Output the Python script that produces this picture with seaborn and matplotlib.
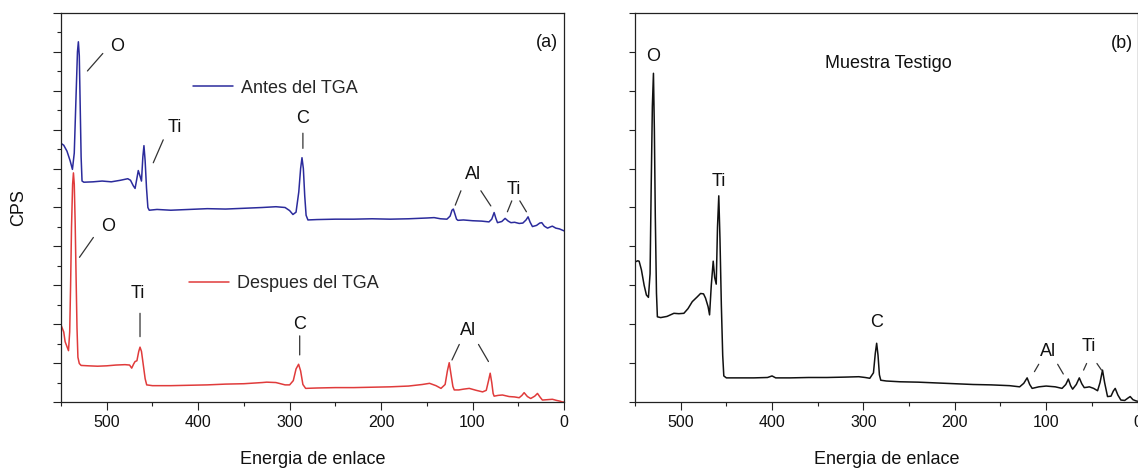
import numpy as np
import pandas as pd
import matplotlib
matplotlib.use("Agg")
import matplotlib.pyplot as plt
from matplotlib.ticker import MultipleLocator
import seaborn as sns

# ---- XPS survey spectra (binding energy in eV, intensity in arbitrary CPS units) ----
antes_e = [550, 547, 543.5, 540, 537.5, 535.5, 533.5, 532, 531, 530, 529, 528, 527,
           525, 515, 505, 495, 485, 477, 474, 471, 469, 467, 465.5, 463.5, 462,
           460.5, 459.3, 458, 456.5, 455, 453.5, 445, 430, 410, 390, 370, 350, 330,
           315, 305, 300, 296.4, 293, 290, 288, 286.5, 285, 283.5, 282, 280, 270,
           250, 230, 210, 190, 170, 150, 142, 135, 128, 124.5, 122.5, 121, 119.5,
           117.5, 116, 110, 100, 90, 82, 79, 76.4, 74.5, 72.7, 68, 64.4, 61, 58,
           54, 49, 45, 41.5, 39.3, 37, 34.5, 30, 26.5, 24.3, 21.5, 18, 14, 12.7,
           9, 5, 2, 0]
antes_cps = [6.65, 6.60, 6.45, 6.20, 5.98, 6.40, 7.90, 9.00, 9.26, 8.90, 7.60, 6.30, 5.68,
             5.65, 5.66, 5.68, 5.66, 5.70, 5.74, 5.70, 5.56, 5.49, 5.75, 5.95, 5.80, 5.68,
             6.30, 6.59, 6.20, 5.50, 5.00, 4.93, 4.95, 4.93, 4.95, 4.97, 4.96, 4.98, 5.00,
             5.02, 5.00, 4.92, 4.82, 4.88, 5.40, 6.00, 6.28, 6.00, 5.30, 4.80, 4.68, 4.69,
             4.70, 4.70, 4.71, 4.70, 4.71, 4.73, 4.74, 4.71, 4.70, 4.78, 4.93, 4.96, 4.85,
             4.70, 4.67, 4.68, 4.66, 4.65, 4.63, 4.70, 4.87, 4.72, 4.61, 4.64, 4.72, 4.65, 4.61,
             4.62, 4.59, 4.60, 4.68, 4.76, 4.62, 4.51, 4.54, 4.60, 4.61, 4.52, 4.47, 4.51, 4.52,
             4.47, 4.45, 4.42, 4.40]

despues_e = [550, 547, 545.5, 541.8, 540.5, 539.5, 538.5, 537.3, 536.4, 535.5, 534.5,
             533.5, 532.5, 531.5, 530, 528, 520, 510, 500, 490, 480, 475, 472.7, 470.5,
             469, 467, 465, 463.6, 462, 460, 458, 456.3, 450, 430, 410, 390, 370, 350,
             330, 325, 315, 305, 300, 296, 293, 290.2, 288, 285.5, 282.5, 270, 250, 230,
             210, 190, 170, 155, 147, 140, 134.5, 130, 127.5, 125.5, 123.5, 121.5, 120,
             115, 110, 103.6, 96, 89, 85, 82.5, 80.7, 79, 77.5, 76.4, 72, 67.3, 60, 54,
             49, 46, 43.6, 40, 36.4, 32, 29, 26, 23.6, 18, 12.7, 8, 4, 1.8, 0]
despues_cps = [1.98, 1.80, 1.55, 1.32, 1.80, 3.00, 4.50, 5.60, 5.89, 5.60, 4.60,
               3.20, 1.90, 1.15, 0.99, 0.94, 0.93, 0.92, 0.93, 0.95, 0.96, 0.95, 0.87, 0.98,
               1.04, 1.06, 1.30, 1.41, 1.30, 0.95, 0.60, 0.44, 0.42, 0.42, 0.43, 0.44, 0.46, 0.47,
               0.50, 0.51, 0.50, 0.44, 0.44, 0.55, 0.85, 0.97, 0.80, 0.45, 0.35, 0.36, 0.37, 0.37,
               0.38, 0.39, 0.41, 0.45, 0.48, 0.42, 0.35, 0.45, 0.80, 1.01, 0.70, 0.40, 0.31,
               0.31, 0.33, 0.35, 0.30, 0.26, 0.30, 0.55, 0.74, 0.50, 0.22, 0.15, 0.17, 0.18, 0.14, 0.13,
               0.11, 0.17, 0.24, 0.14, 0.09, 0.15, 0.22, 0.12, 0.05, 0.06, 0.07, 0.04, 0.02, 0.0, 0.0]

testigo_e = [550, 547, 545.5, 543, 540, 537.5, 535.3, 533.5, 532.3, 531, 529.8, 528.8,
             527.8, 526.5, 525.5, 521.9, 515, 507.4, 502, 496.5, 492, 487.3, 482, 478.2,
             475, 472.8, 470, 468.4, 466.5, 464.4, 462.8, 461.1, 459.7, 458.3, 457,
             455.5, 454, 452.8, 450, 440, 420, 405, 400, 396, 380, 360, 340, 320, 305,
             298, 293, 289, 287, 285.5, 284, 282.5, 281, 275, 260, 240, 220, 200, 180,
             160, 140, 129, 124.5, 120.8, 118, 115.3, 108, 100, 90, 82.6, 78.5, 75.7,
             73.2, 71, 67, 63.7, 61, 58.3, 55, 52.8, 48, 43.7, 41, 38.3, 36, 32.8, 29,
             26.5, 24.4, 21.5, 18.2, 14, 10.5, 8, 5, 1.8, 0]
testigo_cps = [3.60, 3.63, 3.62, 3.40, 3.00, 2.75, 2.69, 3.30, 5.50, 7.60, 8.45, 7.00,
               4.80, 2.80, 2.19, 2.17, 2.20, 2.28, 2.27, 2.28, 2.40, 2.58, 2.70, 2.79,
               2.78, 2.67, 2.45, 2.24, 3.00, 3.62, 3.20, 3.03, 4.50, 5.30, 4.20,
               2.50, 1.20, 0.67, 0.62, 0.62, 0.62, 0.63, 0.67, 0.62, 0.62, 0.63, 0.63, 0.64, 0.65,
               0.63, 0.61, 0.75, 1.25, 1.51, 1.20, 0.70, 0.56, 0.54, 0.52, 0.51, 0.49, 0.47, 0.45,
               0.44, 0.42, 0.39, 0.48, 0.62, 0.45, 0.35, 0.39, 0.41, 0.39, 0.35, 0.45, 0.59,
               0.42, 0.33, 0.45, 0.62, 0.47, 0.37, 0.38, 0.39, 0.35, 0.29, 0.50, 0.82, 0.50, 0.14, 0.15,
               0.28, 0.35, 0.18, 0.05, 0.04, 0.10, 0.14, 0.06, 0.03, 0.02]

series_labels = ["Antes del TGA", "Despues del TGA"]
x_ticks = [0, 100, 200, 300, 400, 500]

BLUE = "#2b2b9c"
RED = "#e03b3b"
BLACK = "#111111"
INK = "#333333"

sns.set_theme(style="ticks")
plt.rcParams["font.family"] = ["Liberation Sans", "DejaVu Sans"]
plt.rcParams["axes.edgecolor"] = "#222222"
plt.rcParams["axes.linewidth"] = 0.9

W, H = 1138, 469
fig = plt.figure(figsize=(W / 100, H / 100), dpi=100)
ax_a = fig.add_axes([61 / W, (H - 402) / H, 503 / W, 389 / H])
ax_b = fig.add_axes([635 / W, (H - 402) / H, 502.5 / W, 389 / H])

df_a = pd.concat([
    pd.DataFrame({"energia": antes_e, "cps": antes_cps, "serie": series_labels[0]}),
    pd.DataFrame({"energia": despues_e, "cps": despues_cps, "serie": series_labels[1]}),
])
df_b = pd.DataFrame({"energia": testigo_e, "cps": testigo_cps})

sns.lineplot(data=df_a, x="energia", y="cps", hue="serie",
             palette=[BLUE, RED], estimator=None, linewidth=1.1,
             legend=False, ax=ax_a)
sns.lineplot(data=df_b, x="energia", y="cps", color=BLACK,
             estimator=None, linewidth=1.1, ax=ax_b)

for ax in (ax_a, ax_b):
    ax.set_xlim(550, 0)
    ax.set_ylim(0, 10)
    ax.set_xticks(x_ticks)
    ax.xaxis.set_minor_locator(MultipleLocator(50))
    ax.yaxis.set_major_locator(MultipleLocator(1))
    ax.set_yticklabels([])
    ax.tick_params(axis="x", which="major", length=5.5, width=0.8, labelsize=11.5,
                   pad=4, colors="#222222")
    ax.tick_params(axis="x", which="minor", length=3, width=0.8, colors="#222222")
    ax.tick_params(axis="x", labelcolor="#111111")
    ax.set_xlabel("Energia de enlace", fontsize=13, labelpad=15, color="#111111")
    ax.set_ylabel("")
    for s in ax.spines.values():
        s.set_visible(True)

ax_a.yaxis.set_minor_locator(MultipleLocator(0.5))
ax_a.tick_params(axis="y", which="major", length=6, width=0.8, colors="#222222")
ax_a.tick_params(axis="y", which="minor", length=3, width=0.8, colors="#222222")
ax_b.tick_params(axis="y", which="major", length=4, width=0.8, colors="#222222")
ax_a.set_ylabel("CPS", fontsize=13, labelpad=15, color="#111111")

# series legends placed next to each curve
blue_line, red_line = ax_a.lines[0], ax_a.lines[1]
leg_kw = dict(loc="center left", frameon=False, borderpad=0, borderaxespad=0,
              handlelength=2.2, handletextpad=0.45, fontsize=13)
leg1 = ax_a.legend([blue_line], [series_labels[0]], bbox_to_anchor=(0.262, 0.807), **leg_kw)
ax_a.add_artist(leg1)
ax_a.legend([red_line], [series_labels[1]], bbox_to_anchor=(0.2545, 0.305), **leg_kw)

txt_kw = dict(fontsize=13, ha="center", va="center", color="#111111")
seg_kw = dict(arrowprops=dict(arrowstyle="-", color=INK, lw=0.9, shrinkA=0, shrinkB=0))

def mark(ax, label, pos, segments):
    ax.text(pos[0], pos[1], label, **txt_kw)
    for (x0, y0, x1, y1) in segments:
        ax.annotate("", xy=(x1, y1), xytext=(x0, y0), **seg_kw)

# panel (a) peak labels
mark(ax_a, "O", (488.7, 9.13), [(521.1, 8.51, 504.3, 8.96)])
mark(ax_a, "Ti", (425.4, 7.05), [(449.1, 6.15, 438.2, 6.74)])
mark(ax_a, "C", (286.1, 7.28), [(285.5, 6.91, 285.5, 6.52)])
mark(ax_a, "Al", (100.0, 5.84), [(118.9, 5.06, 112.7, 5.43), (90.9, 5.43, 80.0, 5.04)])
mark(ax_a, "Ti", (55.3, 5.47), [(61.9, 4.89, 57.1, 5.17), (48.3, 5.17, 41.1, 4.89)])
mark(ax_a, "O", (498.2, 4.52), [(529.8, 3.72, 514.6, 4.23)])
mark(ax_a, "Ti", (465.5, 2.79), [(463.6, 2.28, 463.6, 1.68)])
mark(ax_a, "C", (289.0, 2.00), [(289.0, 1.70, 289.0, 1.21)])
mark(ax_a, "Al", (104.4, 1.85), [(122.5, 1.08, 114.5, 1.48), (93.5, 1.48, 82.6, 1.04)])
ax_a.text(18.2, 9.24, "(a)", **txt_kw)

# panel (b) peak labels
mark(ax_b, "O", (530.6, 8.87), [])
mark(ax_b, "Ti", (458.3, 5.66), [])
mark(ax_b, "C", (285.5, 2.04), [])
mark(ax_b, "Al", (98.3, 1.29), [(112.8, 0.78, 108.1, 0.97), (87.4, 0.97, 81.2, 0.72)])
mark(ax_b, "Ti", (53.6, 1.42), [(59.0, 0.82, 55.7, 0.99), (44.4, 0.99, 39.4, 0.82)])
ax_b.text(17.1, 9.22, "(b)", **txt_kw)
ax_b.text(273, 8.69, "Muestra Testigo", **txt_kw)

fig.savefig("out.png", dpi=100)
